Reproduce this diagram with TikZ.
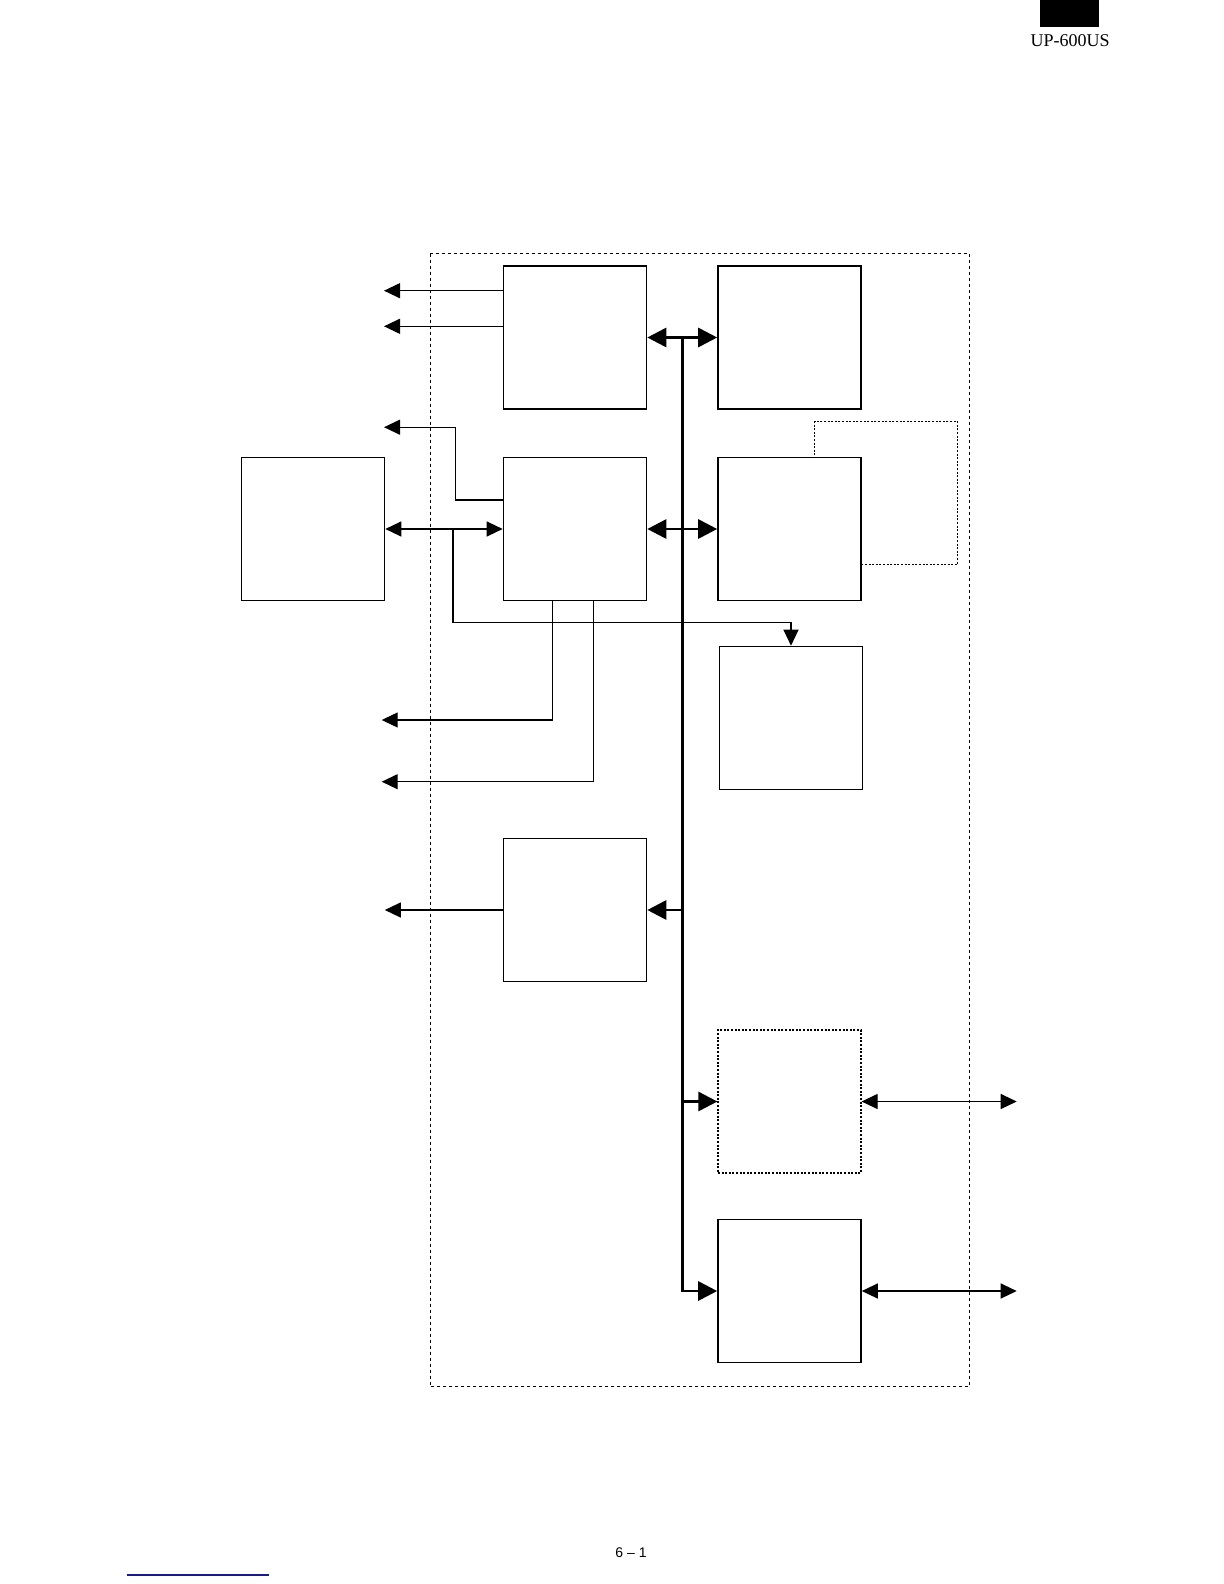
\documentclass[tikz,border=0pt]{standalone}
\usepackage{fontspec}
\setmainfont{Liberation Serif}
\newfontfamily\pagefont{Liberation Sans}
\usetikzlibrary{arrows.meta}
\definecolor{linkblue}{RGB}{25,25,140}
\tikzset{
  blk/.style={draw, line width=0.8pt, fill=white, minimum width=71.5pt, minimum height=71.5pt, inner sep=0pt},
  dblk/.style={blk, line width=0.6pt, dash pattern=on 1pt off 0.8pt},
  conn/.style={line width=0.6pt},
  tip/.style={-{Triangle[length=8pt,width=7.5pt]}},
  dtip/.style={{Triangle[length=8pt,width=7.5pt]}-{Triangle[length=8pt,width=7.5pt]}},
  bus/.style={line width=1.4pt},
  btip/.style={-{Triangle[length=9.5pt,width=9.5pt]}},
  dbtip/.style={{Triangle[length=9.5pt,width=9.5pt]}-{Triangle[length=9.5pt,width=9.5pt]}},
  frame/.style={draw, line width=0.5pt, dash pattern=on 1.5pt off 1.5pt}
}
\begin{document}
\begin{tikzpicture}[x=0.5pt,y=-0.5pt]
\useasboundingbox (0,0) rectangle (1224,1584);
% header
\fill (1040,0) rectangle (1099,27.3);
\node[anchor=base, inner sep=0pt, font=\fontsize{9pt}{10pt}\selectfont] (hdr) at (1070,46.7) {UP-600US};
% outer dashed frame
\draw[frame] (430,253.5) rectangle (969.6,1386.6);
% blocks
\node[dblk] (D) at (886,493) {};
\node[blk] (A) at (575,337.5) {};
\node[blk] (C1) at (789.5,337.5) {};
\node[blk] (B) at (575,529) {};
\node[blk] (X) at (313,529) {};
\node[blk] (C2) at (789.5,529) {};
\node[blk] (E) at (791,718) {};
\node[blk] (F) at (575,910) {};
\node[dblk] (G) at (789.5,1101.5) {};
\node[blk] (H) at (789.5,1291) {};
% free ends
\coordinate (a1) at (384,290.7);
\coordinate (a2) at (384,326.3);
\coordinate (b1) at (384,427.2);
\coordinate (b2) at (381.7,720);
\coordinate (b3) at (381.7,781.7);
\coordinate (f1) at (384.8,910);
\coordinate (g1) at (1016.7,1101.5);
\coordinate (h1) at (1016.7,1291);
\coordinate (j1) at (453,529);
\coordinate (bustop) at (682.3,337.5);
% thin connectors
\draw[conn,tip] (A.west |- a1) -- (a1);
\draw[conn,tip] (A.west |- a2) -- (a2);
\draw[conn,tip] (B.west |- 0,500) -- (455.5,500) -- (455.5,427.2) -- (b1);
\draw[conn,dtip] (X.east) -- (B.west);
\draw[conn,tip] (j1) -- (453,622.3) -- (E.north |- 0,622.3) -- (E.north);
\draw[conn,tip] (552.4,600) -- (552.4,720) -- (b2);
\draw[conn,tip] (593.8,600) -- (593.8,781.7) -- (b3);
\draw[conn,tip] (F.west) -- (f1);
\draw[conn,dtip] (G.east) -- (g1);
\draw[conn,dtip] (H.east) -- (h1);
% bus
\draw[bus,dbtip] (A.east) -- (C1.west);
\draw[bus,dbtip] (B.east) -- (C2.west);
\draw[bus,btip] (bustop) -- (bustop |- H.west) -- (H.west);
\draw[bus,btip] (bustop |- F.east) -- (F.east);
\draw[bus,btip] (bustop |- G.west) -- (G.west);
% footer
\node[anchor=base, inner sep=0pt, font=\pagefont\fontsize{7pt}{8pt}\selectfont] (pg) at (631,1557.3) {6 \textendash{} 1};
\draw[line width=0.75pt, color=linkblue] (126.7,1575) -- (269,1575);
\end{tikzpicture}
\end{document}
